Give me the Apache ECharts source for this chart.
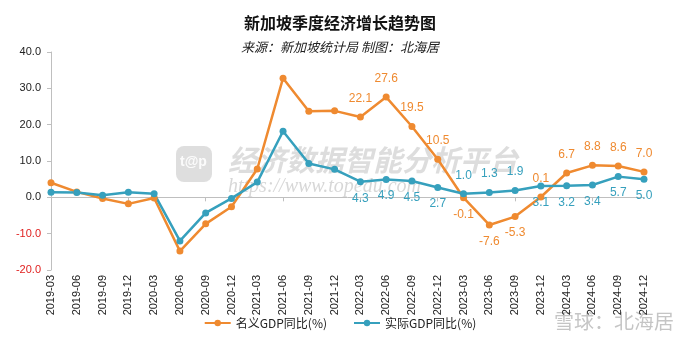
<!DOCTYPE html>
<html>
  <script src="https://cdn.jsdelivr.net/npm/echarts@6/dist/echarts.min.js"></script>
  <head>
    <meta charset="utf-8" />
    <title>新加坡季度经济增长趋势图</title>
  </head>
  <body style="margin: 0">
    <div id="main" style="width: 680px; height: 340px;"></div>
  </body>
  <script>
    var quarters = ['2019-03', '2019-06', '2019-09', '2019-12', '2020-03', '2020-06', '2020-09', '2020-12',
      '2021-03', '2021-06', '2021-09', '2021-12', '2022-03', '2022-06', '2022-09', '2022-12',
      '2023-03', '2023-06', '2023-09', '2023-12', '2024-03', '2024-06', '2024-09', '2024-12']
    var nominal = [4.0, 1.5, -0.3, -1.8, -0.2, -14.8, -7.3, -2.6, 7.8, 32.8, 23.7, 23.8,
      22.1, 27.6, 19.5, 10.5, -0.1, -7.6, -5.3, 0.1, 6.7, 8.8, 8.6, 7.0]
    var real = [1.4, 1.3, 0.6, 1.4, 1.0, -12.0, -4.3, -0.3, 4.2, 18.2, 9.3, 7.7,
      4.3, 4.9, 4.5, 2.7, 1.0, 1.3, 1.9, 3.1, 3.2, 3.4, 5.7, 5.0]
    // which points get a value label, and on which side
    var nominalLabelSide = [null, null, null, null, null, null, null, null, null, null, null, null,
      'top', 'top', 'top', 'top', 'bottom', 'bottom', 'bottom', 'top', 'top', 'top', 'top', 'top']
    var realLabelSide = [null, null, null, null, null, null, null, null, null, null, null, null,
      'bottom', 'bottom', 'bottom', 'bottom', 'top', 'top', 'top', 'bottom', 'bottom', 'bottom', 'bottom', 'bottom']

    var orange = '#EF8A30'
    var blue = '#36A0BD'
    var narrow = '"Liberation Sans Narrow", "Liberation Sans", Arial, sans-serif'

    function buildData(values, sides, color) {
      var out = []
      for (var i = 0; i < values.length; i++) {
        var d = { value: values[i] }
        if (sides[i]) {
          d.label = {
            show: true,
            position: sides[i],
            distance: sides[i] == 'top' ? 9 : 7,
            color: color,
            fontSize: 12,
            fontFamily: narrow,
            formatter: function (p) { return p.value.toFixed(1) }
          }
        }
        out.push(d)
      }
      return out
    }

    var myChart = echarts.init(document.getElementById('main'))
    var option = {
      animation: false,
      title: {
        text: '新加坡季度经济增长趋势图',
        subtext: '来源：新加坡统计局 制图：北海居',
        left: 'center',
        top: 10,
        itemGap: 10,
        textStyle: { fontSize: 16, fontWeight: 'bold', color: '#111', fontFamily: '"Noto Sans CJK SC"' },
        subtextStyle: { fontSize: 13, fontStyle: 'italic', color: '#222', fontFamily: '"Noto Sans CJK SC"' }
      },
      legend: {
        bottom: 6,
        left: 'center',
        itemWidth: 26,
        itemHeight: 8,
        itemGap: 26,
        textStyle: { fontSize: 12, color: '#222', fontFamily: '"Noto Sans CJK SC"' }
      },
      graphic: [
        {
          type: 'rect', left: 176, top: 146, shape: { width: 36, height: 36, r: 8 },
          style: { fill: 'rgba(160,160,160,0.35)' }, z: -1
        },
        {
          type: 'text', left: 180, top: 155,
          style: { text: 't@p', fill: 'rgba(255,255,255,0.9)', font: 'bold 14px "Liberation Sans"' }, z: -1
        },
        {
          type: 'text', left: 228, top: 145,
          style: { text: '经济数据智能分析平台', fill: 'rgba(150,150,150,0.32)', font: 'italic bold 29px "Noto Sans CJK SC"' }, z: -1
        },
        {
          type: 'text', left: 228, top: 177,
          style: { text: 'https://www.topedu.com', fill: 'rgba(150,150,150,0.38)', font: 'italic 20px "Liberation Serif"' }, z: -1
        },
        {
          type: 'text', right: 6, top: 311,
          style: { text: '雪球：北海居', fill: 'rgba(150,150,150,0.55)', font: '20px "Noto Sans CJK SC"' }, z: -1
        }
      ],
      grid: { left: 51, right: 36, top: 52, bottom: 70 },
      xAxis: [
        {
          type: 'category',
          data: quarters,
          boundaryGap: false,
          axisLine: { show: false, onZero: false },
          axisTick: { show: false },
          axisLabel: { rotate: 90, interval: 0, fontSize: 11, color: '#222', fontFamily: narrow, margin: 5 }
        },
        {
          type: 'category',
          data: quarters,
          position: 'bottom',
          boundaryGap: false,
          axisLine: { show: true, onZero: true, lineStyle: { color: '#bfbfbf' } },
          axisTick: { show: true, length: 4, lineStyle: { color: '#bfbfbf' } },
          axisLabel: { show: false }
        }
      ],
      yAxis: {
        type: 'value',
        min: -20,
        max: 40,
        interval: 10,
        splitLine: { show: false },
        axisLine: { show: true, lineStyle: { color: '#bfbfbf' } },
        axisTick: { show: true, length: 4, lineStyle: { color: '#bfbfbf' } },
        axisLabel: {
          fontSize: 11,
          fontFamily: narrow,
          margin: 10,
          formatter: function (v) { return v.toFixed(1) },
          color: function (v) { return v < 0 ? '#e0201f' : '#222' }
        }
      },
      series: [
        {
          name: '名义GDP同比(%)',
          type: 'line',
          data: buildData(nominal, nominalLabelSide, orange),
          symbol: 'circle',
          symbolSize: 7,
          lineStyle: { width: 2.5, color: orange },
          itemStyle: { color: orange }
        },
        {
          name: '实际GDP同比(%)',
          type: 'line',
          data: buildData(real, realLabelSide, blue),
          symbol: 'circle',
          symbolSize: 7,
          lineStyle: { width: 2.5, color: blue },
          itemStyle: { color: blue }
        }
      ]
    }
    option && myChart.setOption(option)
  </script>
</html>
